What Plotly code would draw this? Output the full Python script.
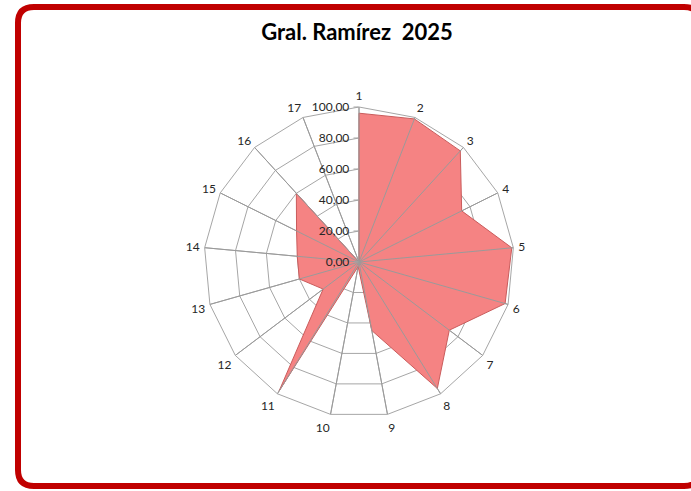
import plotly.graph_objects as go

# Categories (numbered stations) and their scores for the year
categories = [str(i) for i in range(1, 18)]
values = [96, 99, 97, 74, 99, 98, 73, 96, 45, 3, 98, 29, 40, 40, 45, 60, 0]

# Radial scale ticks, shown with a decimal comma
radial_ticks = [0, 20, 40, 60, 80, 100]
radial_labels = ["0,00", "20,00", "40,00", "60,00", "80,00", "100,00"]

W, H = 691, 491
cx, cy, R = 359, 262, 155  # plot centre and outer radius in pixels

GRID = "#a6a6a6"
TEXT = "#262626"

fig = go.Figure()

# Filled radar area
fig.add_trace(go.Scatterpolar(
    r=values + values[:1],
    theta=categories + categories[:1],
    mode="lines",
    fill="toself",
    fillcolor="#f58383",
    line=dict(color="#c95c5c", width=1),
    hoverinfo="skip",
    showlegend=False,
))

# Spokes drawn on top of the filled area
for c in categories:
    fig.add_trace(go.Scatterpolar(
        r=[0, radial_ticks[-1]],
        theta=[c, c],
        mode="lines",
        line=dict(color="#9a9a9a", width=1),
        hoverinfo="skip",
        showlegend=False,
    ))

# Rounded red frame around the chart
def px_x(x):
    return x / W

def px_y(y):
    return 1 - y / H

L, T, Rt, B, rad = 18, 7, 700, 486, 16
path = (
    f"M {px_x(L)},{px_y(T + rad)} "
    f"Q {px_x(L)},{px_y(T)} {px_x(L + rad)},{px_y(T)} "
    f"L {px_x(Rt - rad)},{px_y(T)} "
    f"Q {px_x(Rt)},{px_y(T)} {px_x(Rt)},{px_y(T + rad)} "
    f"L {px_x(Rt)},{px_y(B - rad)} "
    f"Q {px_x(Rt)},{px_y(B)} {px_x(Rt - rad)},{px_y(B)} "
    f"L {px_x(L + rad)},{px_y(B)} "
    f"Q {px_x(L)},{px_y(B)} {px_x(L)},{px_y(B - rad)} Z"
)

fig.update_layout(
    width=W,
    height=H,
    margin=dict(l=0, r=0, t=0, b=0),
    paper_bgcolor="white",
    font=dict(family="Lato, 'Open Sans', sans-serif", size=12, color=TEXT),
    title=dict(
        text="<b>Gral. Ramírez\u00a0 2025</b>",
        x=357 / W,
        xanchor="center",
        y=1 - 32 / H,
        yanchor="middle",
        font=dict(family="Lato, sans-serif", size=22, color="#000000"),
    ),
    polar=dict(
        domain=dict(x=[(cx - R) / W, (cx + R) / W],
                    y=[(H - cy - R) / H, (H - cy + R) / H]),
        bgcolor="white",
        gridshape="linear",
        angularaxis=dict(
            direction="clockwise",
            rotation=90,
            type="category",
            categoryorder="array",
            categoryarray=categories,
            showline=True,
            linecolor=GRID,
            linewidth=1,
            gridcolor=GRID,
            gridwidth=1,
            ticks="outside",
            ticklen=2,
            tickcolor="rgba(0,0,0,0)",
            tickfont=dict(size=12, color=TEXT),
        ),
        radialaxis=dict(
            range=[0, 100],
            angle=90,
            tickangle=90,
            tickvals=radial_ticks,
            ticktext=radial_labels,
            side="counterclockwise",
            showline=False,
            gridcolor=GRID,
            gridwidth=1,
            ticks="outside",
            ticklen=5,
            tickcolor=GRID,
            tickfont=dict(size=12, color=TEXT),
            layer="above traces",
        ),
    ),
    shapes=[dict(
        type="path",
        xref="paper",
        yref="paper",
        path=path,
        line=dict(color="#c00000", width=6),
        fillcolor="rgba(0,0,0,0)",
        layer="above",
    )],
)

fig.write_html("out.html")
